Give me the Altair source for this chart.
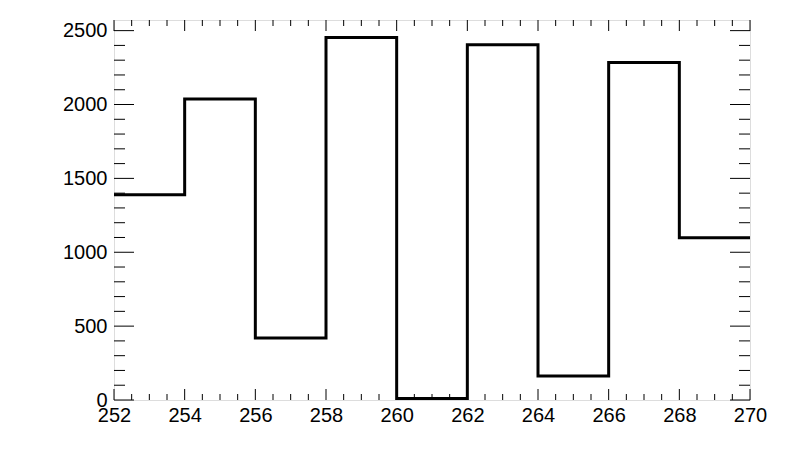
import altair as alt
import pandas as pd

# Histogram data (bin edges and counts)
edges = [252, 254, 256, 258, 260, 262, 264, 266, 268, 270]
counts = [1389, 2037, 420, 2453, 10, 2405, 163, 2285, 1098]

x_major = [252, 254, 256, 258, 260, 262, 264, 266, 268, 270]
x_minor = [252 + 0.5 * i for i in range(37) if (0.5 * i) % 2 != 0]
y_major = [0, 500, 1000, 1500, 2000, 2500]
y_minor = [100 * i for i in range(26) if (100 * i) % 500 != 0]

X_DOMAIN = [252, 270]
Y_DOMAIN = [0, 2572]
W, H = 636, 380

step_df = pd.DataFrame({"x": edges, "y": counts + [counts[-1]]})

xs = alt.Scale(domain=X_DOMAIN, nice=False, zero=False)
ys = alt.Scale(domain=Y_DOMAIN, nice=False, zero=True)

FONT = "Liberation Sans"

x_axis = alt.Axis(
    title=None, values=x_major, ticks=False, tickSize=0, domain=False,
    grid=False, labelFont=FONT, labelFontSize=20, labelColor="black",
    labelPadding=5, labelFlush=False, labelOverlap=False, format="d")
y_axis = alt.Axis(
    title=None, values=y_major, ticks=False, tickSize=0, domain=False,
    grid=False, labelFont=FONT, labelFontSize=20, labelColor="black",
    labelPadding=7, labelFlush=False, labelOverlap=False, format="d")

line = alt.Chart(step_df).mark_line(
    interpolate="step-after", color="black", strokeWidth=3, strokeCap="butt",
    strokeJoin="miter", clip=True
).encode(
    x=alt.X("x:Q", scale=xs, axis=x_axis),
    y=alt.Y("y:Q", scale=ys, axis=y_axis),
)

def xticks(vals, y0, y1):
    return alt.Chart(pd.DataFrame({"v": vals})).mark_rule(
        color="black", strokeWidth=1).encode(
        x=alt.X("v:Q", scale=xs, axis=x_axis),
        y=alt.value(y0), y2=alt.value(y1))

def yticks(vals, x0, x1):
    return alt.Chart(pd.DataFrame({"v": vals})).mark_rule(
        color="black", strokeWidth=1).encode(
        y=alt.Y("v:Q", scale=ys, axis=y_axis),
        x=alt.value(x0), x2=alt.value(x1))

layers = [
    line,
    xticks(x_major, H, H - 11),
    xticks(x_minor, H, H - 6),
    xticks(x_major, 0, 11),
    xticks(x_minor, 0, 6),
    yticks(y_major, 0, 20),
    yticks(y_minor, 0, 11),
    yticks(y_major, W, W - 20),
    yticks(y_minor, W, W - 11),
]

chart = alt.layer(*layers).properties(
    width=W, height=H,
    autosize=alt.AutoSizeParams(type="none"),
    padding={"left": 106, "top": 12, "right": 30, "bottom": 53},
).configure_view(
    stroke="black", strokeWidth=1
).configure(background="white")

chart.save("out.html", embed_options={"renderer": "svg", "actions": False})
